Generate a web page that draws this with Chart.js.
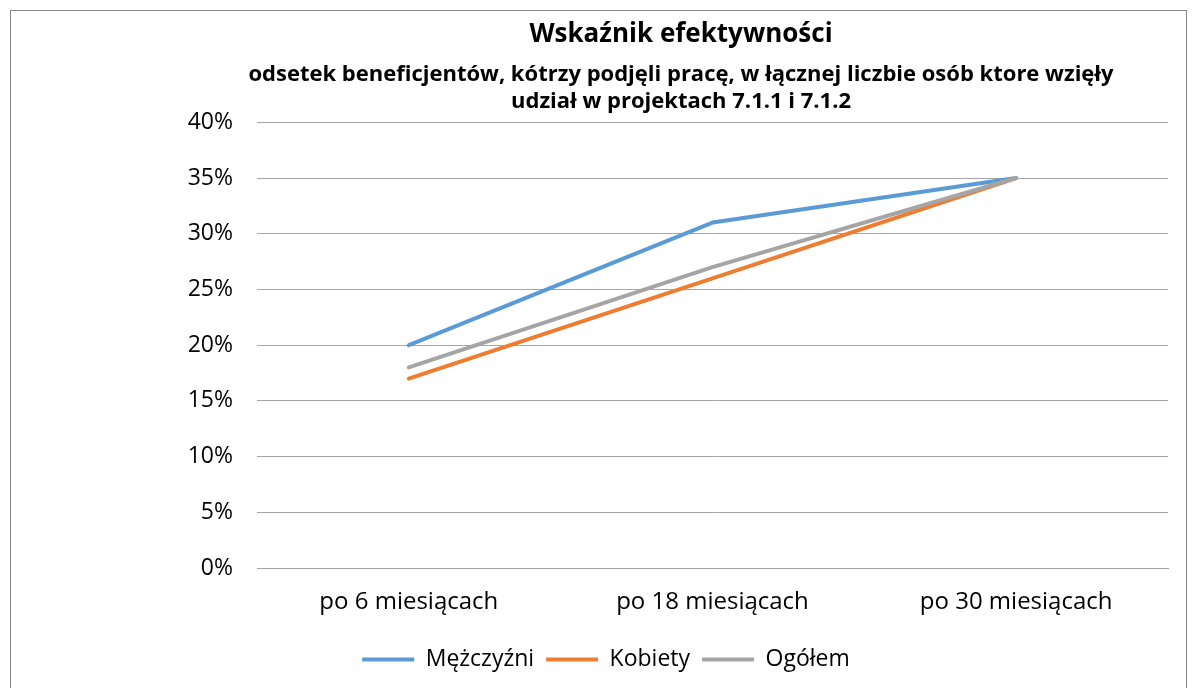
<!DOCTYPE html>
<html>
<head>
<meta charset="utf-8">
<script src="https://cdn.jsdelivr.net/npm/chart.js@4/dist/chart.umd.min.js"></script>
<style>
  html, body { margin: 0; padding: 0; background: #fff; }
  #wrap { width: 1197px; height: 688px; position: relative; }
</style>
</head>
<body>
<div id="wrap"><canvas id="chart" width="1197" height="688"></canvas></div>
<script>
// categories and values (percent)
const categories = ["po 6 miesiącach", "po 18 miesiącach", "po 30 miesiącach"];
const men = [20, 31, 35];
const women = [17, 26, 35];
const total = [18, 27, 35];
const seriesNames = ["Mężczyźni", "Kobiety", "Ogółem"];

const FONT = "'Open Sans', 'Noto Sans', sans-serif";

// frame around the whole chart, like the Excel chart border
const frame = {
  id: "frame",
  beforeDraw(chart) {
    const ctx = chart.ctx;
    ctx.save();
    ctx.strokeStyle = "#888888";
    ctx.lineWidth = 1;
    ctx.strokeRect(10.5, 10.5, 1176, 700);
    ctx.restore();
  }
};

// Excel centres the titles over a different span than Chart.js does,
// so nudge the title, subtitle and legend boxes sideways after layout
const nudge = {
  id: "nudge",
  afterLayout(chart) {
    chart.boxes.forEach(b => {
      if (b === chart.legend) {
        b.left += 17; b.right += 17;
      } else if (b.options && b.options.text !== undefined && !b.axis) {
        b.left += 92; b.right += 92;
      }
    });
  }
};

new Chart(document.getElementById("chart"), {
  type: "line",
  plugins: [frame, nudge],
  data: {
    labels: categories,
    datasets: [
      { label: seriesNames[0], data: men, borderColor: "#5b9bd5", backgroundColor: "#5b9bd5", borderWidth: 4, order: 2 },
      { label: seriesNames[1], data: women, borderColor: "#ed7d31", backgroundColor: "#ed7d31", borderWidth: 4, order: 1 },
      { label: seriesNames[2], data: total, borderColor: "#a5a5a5", backgroundColor: "#a5a5a5", borderWidth: 4, order: 0 }
    ]
  },
  options: {
    responsive: false,
    animation: false,
    layout: { padding: { top: 19, left: 10, right: 29, bottom: 7 } },
    elements: {
      line: { tension: 0, borderCapStyle: "round", borderJoinStyle: "round" },
      point: { radius: 0, hoverRadius: 0 }
    },
    plugins: {
      tooltip: { enabled: false },
      title: {
        display: true,
        text: "Wskaźnik efektywności",
        color: "#000",
        font: { family: FONT, size: 26, weight: "bold", lineHeight: 1.2 },
        padding: { top: 0, bottom: 11 }
      },
      subtitle: {
        display: true,
        text: ["odsetek beneficjentów, kótrzy podjęli pracę, w łącznej liczbie osób ktore wzięły",
               "udział w projektach 7.1.1 i 7.1.2"],
        color: "#000",
        font: { family: FONT, size: 22, weight: "bold", lineHeight: 1.23 },
        padding: { top: 0, bottom: 7 }
      },
      legend: {
        position: "bottom",
        labels: {
          sort: (a, b) => a.datasetIndex - b.datasetIndex,
          usePointStyle: true,
          pointStyle: "line",
          pointStyleWidth: 52,
          color: "#000",
          font: { family: FONT, size: 23 },
          padding: 12
        }
      }
    },
    scales: {
      x: {
        offset: true,
        grid: { display: false, drawTicks: false },
        border: { display: true, color: "#a6a6a6" },
        ticks: { color: "#000", font: { family: FONT, size: 24, lineHeight: 2 }, padding: 10 }
      },
      y: {
        min: 0,
        max: 40,
        grid: { color: "#a6a6a6", drawTicks: false },
        border: { display: false },
        afterFit(scale) { scale.width = 247; },
        ticks: {
          stepSize: 5,
          padding: 24,
          color: "#000",
          font: { family: FONT, size: 23 },
          callback: v => v + "%"
        }
      }
    }
  }
});
</script>
</body>
</html>
